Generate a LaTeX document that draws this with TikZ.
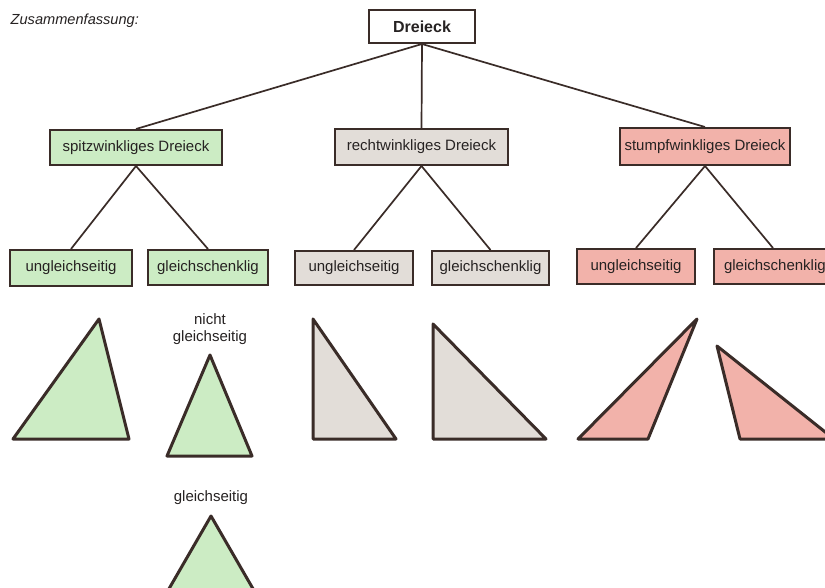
\documentclass[tikz,border=0pt]{standalone}
\usepackage{fontspec}
\setmainfont{Liberation Sans}
\definecolor{ink}{HTML}{3A2C28}
\definecolor{txt}{HTML}{262222}
\definecolor{gfill}{HTML}{CCECC4}
\definecolor{rfill}{HTML}{E2DDD8}
\definecolor{pfill}{HTML}{F2B2AA}
\tikzset{
  box/.style={draw=ink, line width=2pt, rectangle, inner sep=0pt, text=txt,
    font=\fontsize{15}{17}\selectfont},
  conn/.style={draw=ink, line width=1.7pt},
  tri/.style={draw=ink, line width=3pt, line join=round},
  lbl/.style={text=txt, align=center, inner sep=0pt,
    font=\fontsize{15}{16.5}\selectfont}
}
\begin{document}
\begin{tikzpicture}[x=1pt,y=-1pt]
\useasboundingbox (0,0) rectangle (825,588);
\clip (0,0) rectangle (825,588);
\fill[white] (0,0) rectangle (825,588);

\node[anchor=west, text=txt, inner sep=0pt,
  font=\fontsize{14.6}{16}\selectfont\itshape] (title) at (10.5,20.5) {Zusammenfassung:};

\node[box, fill=white, minimum width=106pt, minimum height=33pt,
  font=\fontsize{16}{18}\selectfont\bfseries] (top) at (422,26.5) {Dreieck};

\node[box, fill=gfill, minimum width=172pt, minimum height=35pt] (spitz) at (136,147.5) {spitzwinkliges Dreieck};
\node[box, fill=rfill, minimum width=173pt, minimum height=36pt] (recht) at (421.5,147) {rechtwinkliges Dreieck};
\node[box, fill=pfill, minimum width=170pt, minimum height=37pt] (stumpf) at (705,146.5) {stumpfwinkliges Dreieck};

\node[box, fill=gfill, minimum width=122pt, minimum height=36pt] (su) at (71,268) {ungleichseitig};
\node[box, fill=gfill, minimum width=120pt, minimum height=35pt] (sg) at (208,267.5) {gleichschenklig};
\node[box, fill=rfill, minimum width=118pt, minimum height=34pt] (ru) at (354,268) {ungleichseitig};
\node[box, fill=rfill, minimum width=117pt, minimum height=34pt] (rg) at (490.5,268) {gleichschenklig};
\node[box, fill=pfill, minimum width=118pt, minimum height=35pt] (tu) at (636,266.5) {ungleichseitig};
\node[box, fill=pfill, minimum width=118pt, minimum height=35pt, text width=118pt, align=left] (tg) at (773,266.5) {\hspace*{10pt}gleichschenklig};

\draw[conn] (top.south) -- (spitz.north);
\draw[conn] (top.south) -- (recht.north);
\draw[conn] (top.south) -- (stumpf.north);
\draw[conn] (spitz.south) -- (su.north);
\draw[conn] (spitz.south) -- (sg.north);
\draw[conn] (recht.south) -- (ru.north);
\draw[conn] (recht.south) -- (rg.north);
\draw[conn] (stumpf.south) -- (tu.north);
\draw[conn] (stumpf.south) -- (tg.north);

% triangles
\filldraw[tri, fill=gfill] (13,439) -- (99,319) -- (129,439) -- cycle;
\filldraw[tri, fill=gfill] (210,355) -- (252,456) -- (167,456) -- cycle;
\filldraw[tri, fill=gfill] (211,516) -- (254,590.5) -- (168,590.5) -- cycle;
\filldraw[tri, fill=rfill] (313,319) -- (396,439) -- (313,439) -- cycle;
\filldraw[tri, fill=rfill] (433,324) -- (546,439) -- (433,439) -- cycle;
\filldraw[tri, fill=pfill] (578,439) -- (697,319) -- (648,439) -- cycle;
\filldraw[tri, fill=pfill] (717,346) -- (834,439) -- (740,439) -- cycle;

\node[lbl] (ng) at (210,329) {nicht\\gleichseitig};
\node[lbl] (gs) at (211,498) {gleichseitig};
\end{tikzpicture}
\end{document}
